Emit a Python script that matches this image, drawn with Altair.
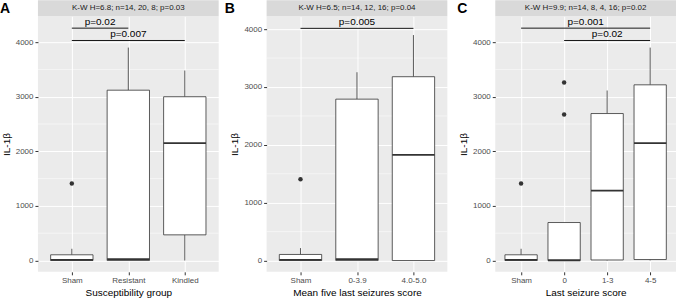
import altair as alt
import pandas as pd

FONT = "Liberation Sans"

# ---------- Panel A ----------
a_cats = ["Sham", "Resistant", "Kindled"]
a_low = [0, 0, 0]
a_q1 = [0, 0, 470]
a_med = [10, 25, 2150]
a_q3 = [105, 3120, 3000]
a_high = [215, 3900, 3480]
a_out_cat = [1]
a_out_val = [1410]
a_sig_label = ["p=0.02", "p=0.007"]
a_sig_from = [1, 1]
a_sig_to = [2, 3]
a_sig_y = [4256, 4030]
a_strip = "K-W H=6.8; n=14, 20, 8; p=0.03"
a_xtitle = "Susceptibility group"

# ---------- Panel B ----------
b_cats = ["Sham", "0-3.9", "4.0-5.0"]
b_low = [0, 0, 0]
b_q1 = [0, 0, 0]
b_med = [10, 25, 1826]
b_q3 = [105, 2790, 3178]
b_high = [215, 3255, 3898]
b_out_cat = [1]
b_out_val = [1405]
b_sig_label = ["p=0.005"]
b_sig_from = [1]
b_sig_to = [3]
b_sig_y = [4014]
b_strip = "K-W H=6.5; n=14, 12, 16; p=0.04"
b_xtitle = "Mean five last seizures score"

# ---------- Panel C ----------
c_cats = ["Sham", "0", "1-3", "4-5"]
c_low = [0, 0, 0, 0]
c_q1 = [0, 0, 10, 18]
c_med = [10, 5, 1282, 2150]
c_q3 = [105, 696, 2692, 3218]
c_high = [215, 696, 3114, 3900]
c_out_cat = [1, 2, 2]
c_out_val = [1410, 3260, 2674]
c_sig_label = ["p=0.001", "p=0.02"]
c_sig_from = [1, 2]
c_sig_to = [4, 4]
c_sig_y = [4256, 4030]
c_strip = "K-W H=9.9; n=14, 8, 4, 16; p=0.02"
c_xtitle = "Last seizure score"

y_title = "IL-1β"
y_ticks = [0, 1000, 2000, 3000, 4000]
y_minor = [500, 1500, 2500, 3500]

W = 181
H = 256
BOX_HALF = 0.375
DARK = "#333333"


def panel(letter, letter_dx, cats, low, q1, med, q3, high, out_cat, out_val,
          sig_label, sig_from, sig_to, sig_y, strip, xtitle, ydomain):
    n = len(cats)
    idx = list(range(1, n + 1))
    boxes = pd.DataFrame({
        "idx": idx, "cat": cats, "low": low, "q1": q1, "med": med,
        "q3": q3, "high": high,
        "left": [i - BOX_HALF for i in idx],
        "right": [i + BOX_HALF for i in idx],
    })
    outs = pd.DataFrame({"idx": out_cat, "val": out_val})
    sig = pd.DataFrame({
        "label": sig_label, "x1": sig_from, "x2": sig_to, "y": sig_y,
        "mid": [(a + b) / 2 for a, b in zip(sig_from, sig_to)],
    })
    minor = pd.DataFrame({"v": y_minor})
    info = pd.DataFrame({"strip": [strip], "letter": [letter]})

    names = "[" + ",".join("'" + c + "'" for c in cats) + "]"
    xscale = alt.Scale(domain=[0.4, n + 0.6], nice=False, zero=False)
    yscale = alt.Scale(domain=ydomain, nice=False, zero=False)
    xaxis = alt.Axis(values=idx, labelExpr=names + "[datum.value-1]",
                     title=xtitle, grid=True, gridColor="white", gridWidth=1,
                     domain=False, tickColor=DARK, tickSize=3,
                     labelPadding=2, titlePadding=3)
    yaxis = alt.Axis(values=y_ticks, format="d", title=y_title, grid=True,
                     gridColor="white", gridWidth=1, domain=False,
                     tickColor=DARK, tickSize=3, labelPadding=2,
                     titlePadding=4)

    def X(f):
        return alt.X(f, type="quantitative", scale=xscale, axis=xaxis)

    def Y(f):
        return alt.Y(f, type="quantitative", scale=yscale, axis=yaxis)

    grid_minor = alt.Chart(minor).mark_rule(color="white", strokeWidth=0.5).encode(
        y=Y("v"))
    whisk_lo = alt.Chart(boxes).mark_rule(color=DARK, strokeWidth=0.8).encode(
        x=X("idx"), y=Y("low"), y2="q1")
    whisk_hi = alt.Chart(boxes).mark_rule(color=DARK, strokeWidth=0.8).encode(
        x=X("idx"), y=Y("q3"), y2="high")
    box = alt.Chart(boxes).mark_rect(fill="white", stroke=DARK, strokeWidth=0.8).encode(
        x=X("left"), x2="right", y=Y("q1"), y2="q3")
    median = alt.Chart(boxes).mark_rule(color=DARK, strokeWidth=1.8).encode(
        x=X("left"), x2="right", y=Y("med"))
    points = alt.Chart(outs).mark_point(filled=True, color=DARK, size=20, opacity=1).encode(
        x=X("idx"), y=Y("val"))
    sig_rule = alt.Chart(sig).mark_rule(color="black", strokeWidth=0.9).encode(
        x=X("x1"), x2="x2", y=Y("y"))
    sig_text = alt.Chart(sig).mark_text(fontSize=10, dy=-3, baseline="alphabetic",
                                        color="black", font=FONT).encode(
        x=X("mid"), y=Y("y"), text="label")
    strip_bg = alt.Chart(info).mark_rect(fill="#D9D9D9").encode(
        x=alt.value(0), x2=alt.value(W), y=alt.value(-16), y2=alt.value(0))
    strip_txt = alt.Chart(info).mark_text(fontSize=8, color="#1A1A1A", font=FONT,
                                          baseline="middle").encode(
        x=alt.value(W / 2), y=alt.value(-8), text="strip")
    letter_txt = alt.Chart(info).mark_text(fontSize=14, fontWeight="bold", color="black",
                                           font=FONT, align="left",
                                           baseline="alphabetic").encode(
        x=alt.value(letter_dx), y=alt.value(-3), text="letter")

    return alt.layer(grid_minor, whisk_lo, whisk_hi, box, median, points,
                     sig_rule, sig_text, strip_bg, strip_txt, letter_txt).properties(
        width=W, height=H)


pa = panel("A", -38, a_cats, a_low, a_q1, a_med, a_q3, a_high, a_out_cat, a_out_val,
           a_sig_label, a_sig_from, a_sig_to, a_sig_y, a_strip, a_xtitle, [-207, 4475])
pb = panel("B", -42, b_cats, b_low, b_q1, b_med, b_q3, b_high, b_out_cat, b_out_val,
           b_sig_label, b_sig_from, b_sig_to, b_sig_y, b_strip, b_xtitle, [-195, 4224])
pc = panel("C", -38, c_cats, c_low, c_q1, c_med, c_q3, c_high, c_out_cat, c_out_val,
           c_sig_label, c_sig_from, c_sig_to, c_sig_y, c_strip, c_xtitle, [-207, 4475])

chart = alt.hconcat(pa, pb, pc, spacing=48, bounds="flush").configure(
    padding=0, background="white", font=FONT
).configure_view(
    fill="#EBEBEB", strokeWidth=0
).configure_axis(
    labelFont=FONT, labelFontSize=8, labelColor="#4D4D4D",
    titleFont=FONT, titleFontSize=10, titleFontWeight="normal", titleColor="black"
)

chart.save("out.html", embed_options={"renderer": "svg", "actions": False})
